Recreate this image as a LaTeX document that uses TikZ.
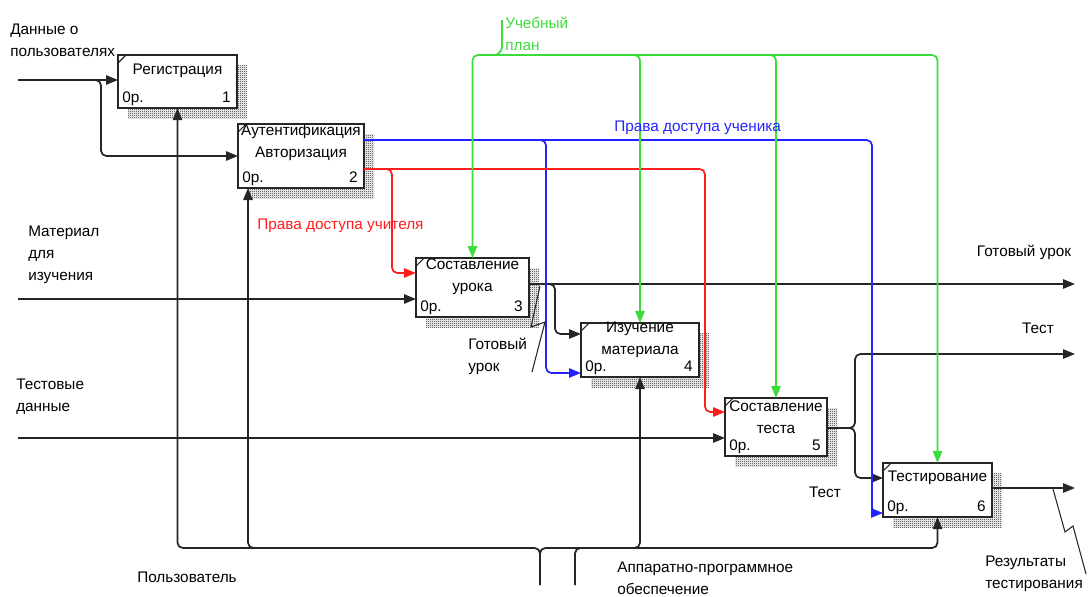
\documentclass[tikz,border=0pt]{standalone}
\usepackage{fontspec}
\setmainfont{Liberation Sans}
\usetikzlibrary{arrows.meta,calc,patterns}
\pgfdeclarepatternformonly{idefhatch}{\pgfqpoint{0pt}{0pt}}{\pgfqpoint{1.5pt}{1.5pt}}{\pgfqpoint{1.5pt}{1.5pt}}{%
\pgfpathrectangle{\pgfqpoint{0pt}{0pt}}{\pgfqpoint{0.75pt}{0.75pt}}%
\pgfpathrectangle{\pgfqpoint{0.75pt}{0.75pt}}{\pgfqpoint{0.75pt}{0.75pt}}%
\pgfusepath{fill}}
\definecolor{igreen}{RGB}{60,220,60}
\definecolor{iblue}{RGB}{35,35,255}
\definecolor{ired}{RGB}{255,30,30}
\newcommand\idefbox[6]{% name, x1, y1, x2, y2, number
  \fill[shadowfill] (#2+10,#3+10) rectangle (#4+10,#5+10);
  \node[ibx, minimum width={(#4-#2)*0.75pt}, minimum height={(#5-#3)*0.75pt}] (#1) at ({(#2+#4)/2},{(#3+#5)/2}) {};
  \draw[thinln] ($(#1.north west)+(0,8)$) -- ($(#1.north west)+(8,0)$);
  \node[txt, anchor=base west] (#1o) at ($(#1.south west)+(4,-6)$) {0р.};
  \node[txt, anchor=base east] (#1n) at ($(#1.south east)+(-6,-6)$) {#6};
}
\begin{document}
\begin{tikzpicture}[x=0.75pt,y=-0.75pt,
  ln/.style={line width=1.3pt, draw=black!85},
  thinln/.style={line width=0.8pt, draw=black!85},
  tip/.style={-{Triangle[length=9pt,width=7pt]}},
  arr/.style={ln,tip},
  garr/.style={line width=1.3pt, draw=igreen, tip},
  barr/.style={line width=1.3pt, draw=iblue, tip},
  rarr/.style={line width=1.3pt, draw=ired, tip},
  rc/.style={rounded corners=4pt},
  ibx/.style={draw=black!85, line width=1.3pt, fill=white, inner sep=0pt, outer sep=0pt},
  txt/.style={inner sep=0pt, font=\fontsize{11.5}{16.5}\selectfont},
  shadowfill/.style={pattern=idefhatch, pattern color=black!90}]
\useasboundingbox (0,0) rectangle (1088,596);

% boxes
\idefbox{b1}{118}{55}{237}{108}{1}
\idefbox{b2}{238}{124}{364}{188}{2}
\idefbox{b3}{416}{258}{529}{317}{3}
\idefbox{b4}{581}{323}{699}{377}{4}
\idefbox{b5}{725}{398}{827}{456}{5}
\idefbox{b6}{883}{463}{992}{517}{6}

\node[txt] (t1) at ($(b1.north)+(0,16)$) {Регистрация};
\node[txt, align=center] (t2) at ($(b2.north)+(0,19)$) {Аутентификация\\Авторизация};
\node[txt, align=center] (t3) at ($(b3.north)+(0,19)$) {Составление\\урока};
\node[txt, align=center] (t4) at ($(b4.north)+(0,17)$) {Изучение\\материала};
\node[txt, align=center] (t5) at ($(b5.north)+(0,19)$) {Составление\\теста};
\node[txt] (t6) at ($(b6.north)+(0,15)$) {Тестирование};

% free ends
\coordinate (inD) at (18,80);
\coordinate (inM) at (18,299);
\coordinate (inT) at (18,438);
\coordinate (out3) at (1075,284);
\coordinate (out5) at (1075,354);
\coordinate (out6) at (1075,488);
\coordinate (mUser) at (540,585);
\coordinate (mHW) at (575,585);
\coordinate (bus) at (540,548);
\coordinate (gtop) at (500,55);
\coordinate (m2) at ($(b2.south west)+(10,0)$);

% inputs
\draw[arr] (inD) -- (b1.west |- inD);
\draw[arr,rc] (95,80) -- (101,80) -- (101,156) -- (b2.west);
\draw[arr] (inM) -- (b3.west |- inM);
\draw[arr] (inT) -- (b5.west |- inT);

% outputs
\draw[arr] (b3.east |- out3) -- (out3);
\draw[arr,rc] (549,284) -- (555,284) -- (555,334) -- ($(b4.north west)+(0,11)$);
\draw[arr,rc] ($(b5.north east)+(0,30)$) -- (855,428) -- (855,354) -- (out5);
\draw[arr,rc] ($(b5.north east)+(0,30)$) -- (855,428) -- (855,478) -- ($(b6.north west)+(0,15)$);
\draw[arr] (b6.east |- out6) -- (out6);

% mechanisms
\draw[arr,rc] (mUser) -- (bus) -- (bus -| b1.south) -- (b1.south);
\draw[arr,rc] (mUser) -- (bus) -- (bus -| b6.south) -- (b6.south);
\draw[arr,rc] ($(m2 |- bus)+(6,0)$) -- (m2 |- bus) -- (m2);
\draw[arr,rc] ($(bus -| b4.south)+(-6,0)$) -- (bus -| b4.south) -- (b4.south);
\draw[ln,rc] (mHW) -- (mHW |- bus) -- ($(mHW |- bus)+(6,0)$);

% blue
\draw[barr,rc] ($(b2.north east)+(0,16)$) -- (872,140) -- (872,513) -- ($(b6.south west)+(0,-4)$);
\draw[barr,rc] (540,140) -- (546,140) -- (546,373) -- ($(b4.south west)+(0,-4)$);

% red
\draw[rarr,rc] ($(b2.south east)+(0,-19)$) -- (705,169) -- (705,412) -- ($(b5.north west)+(0,14)$);
\draw[rarr,rc] (386,169) -- (392,169) -- (392,273) -- ($(b3.north west)+(0,15)$);

% green
\draw[garr,rc] (gtop) -- (gtop -| b3.north) -- (b3.north);
\draw[garr,rc] (gtop) -- (gtop -| b6.north) -- (b6.north);
\draw[garr,rc] ($(gtop -| b4.north)+(-6,0)$) -- (gtop -| b4.north) -- (b4.north);
\draw[garr,rc] ($(gtop -| b5.north)+(-6,0)$) -- (gtop -| b5.north) -- (b5.north);
\draw[line width=1.3pt, draw=igreen, rounded corners=3pt] (502,20) -- (502,51) -- (496,55);

% leaders
\draw[thinln] (540,286) -- (531,327) -- (545,322) -- (532,372);
\draw[thinln] (1053,489) -- (1065,532) -- (1073,526) -- (1086,574);

% labels
\node[txt, align=left, anchor=west] (lD) at (10,40) {Данные о\\пользователях};
\node[txt, align=left, anchor=west] (lM) at (28,255) {Материал\\для\\изучения};
\node[txt, align=left, anchor=west] (lT) at (16,397) {Тестовые\\данные};
\node[txt] (lU) at (187,577) {Пользователь};
\node[txt, align=left, anchor=west] (lHW) at (617,578) {Аппаратно-программное\\обеспечение};
\node[txt, align=left, anchor=west] (lR) at (985,574) {Результаты\\тестирования};
\node[txt] (lG1) at (1024,252) {Готовый урок};
\node[txt] (lTs1) at (1038,328) {Тест};
\node[txt] (lTs2) at (825,492) {Тест};
\node[txt, align=left, anchor=west] (lG2) at (468,356) {Готовый\\урок};
\node[txt, text=iblue, anchor=west] (lB) at (614,128) {Права доступа ученика};
\node[txt, text=ired, anchor=west] (lR2) at (257,226) {Права доступа учителя};
\node[txt, text=igreen, align=left, anchor=west] (lP) at (505,34) {Учебный\\план};
\end{tikzpicture}
\end{document}
